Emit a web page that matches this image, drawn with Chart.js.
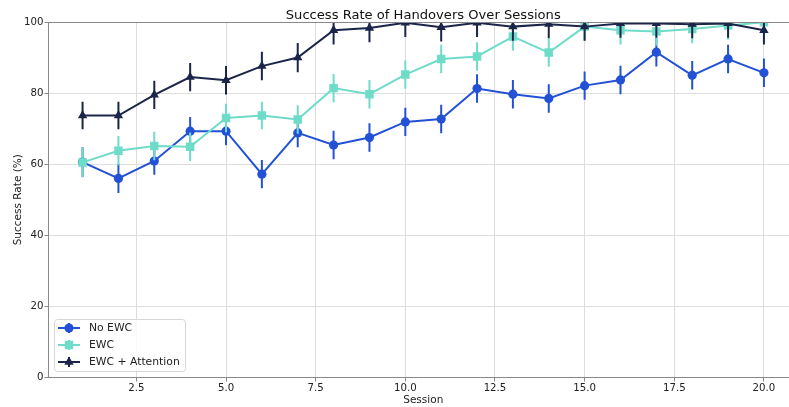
<!DOCTYPE html>
<html>
<head>
<meta charset="utf-8">
<script src="https://cdn.jsdelivr.net/npm/chart.js@4/dist/chart.umd.min.js"></script>
<style>
  html, body { margin: 0; padding: 0; background: #fff; overflow: hidden; }
  #wrap { width: 789px; height: 407px; overflow: hidden; position: relative; }
  #wrap canvas { position: absolute; left: 0; top: 0; }
</style>
</head>
<body>
<div id="wrap"><canvas id="c" width="804" height="407" style="width:804px;height:407px"></canvas></div>
<script>
// Sessions and success rates (%) with standard deviation per session
const sessions = [1, 2, 3, 4, 5, 6, 7, 8, 9, 10, 11, 12, 13, 14, 15, 16, 17, 18, 19, 20];

const noEwc    = [60.6, 56.0, 60.9, 69.3, 69.3, 57.2, 68.8, 65.4, 67.5, 71.9, 72.7, 81.3, 79.7, 78.5, 82.1, 83.7, 91.5, 85.0, 89.6, 85.7];
const noEwcErr = [4.2, 4.1, 3.9, 4.0, 4.0, 4.0, 4.0, 4.0, 4.0, 4.0, 4.0, 4.0, 4.0, 4.0, 4.0, 4.0, 4.0, 4.0, 4.0, 4.0];

const ewc      = [60.5, 63.8, 65.1, 64.9, 73.0, 73.7, 72.6, 81.4, 79.7, 85.2, 89.6, 90.3, 95.9, 91.4, 98.7, 97.7, 97.3, 98.0, 99.0, 99.9];
const ewcErr   = [4.2, 4.1, 4.0, 4.0, 4.0, 3.9, 4.0, 4.0, 4.0, 4.0, 4.0, 4.0, 4.0, 4.0, 4.0, 4.0, 4.0, 4.0, 4.0, 4.0];

const ewcAttn    = [73.7, 73.7, 79.5, 84.5, 83.6, 87.6, 90.0, 97.7, 98.3, 99.8, 98.5, 99.8, 98.7, 99.4, 98.7, 99.6, 99.6, 99.4, 99.6, 97.7];
const ewcAttnErr = [3.9, 3.9, 4.0, 4.0, 4.0, 4.0, 4.1, 4.0, 4.0, 4.0, 4.0, 4.0, 4.0, 4.0, 4.0, 4.0, 4.0, 4.0, 4.0, 4.0];

const xTicks = [2.5, 5.0, 7.5, 10.0, 12.5, 15.0, 17.5, 20.0];
const yTicks = [0, 20, 40, 60, 80, 100];

const FONT = "'DejaVu Sans', 'Liberation Sans', sans-serif";

const seriesDefs = [
  { label: 'No EWC',          values: noEwc,   errors: noEwcErr,   color: '#2251d6', style: 'circle',   radius: 4.6, order: 2 },
  { label: 'EWC',             values: ewc,     errors: ewcErr,     color: '#6fdcc9', style: 'rect',     radius: 6.0, order: 1 },
  { label: 'EWC + Attention', values: ewcAttn, errors: ewcAttnErr, color: '#1b2549', style: 'triangle', radius: 5.4, order: 0 }
];

const datasets = seriesDefs.map(s => ({
  label: s.label,
  data: sessions.map((x, i) => ({ x: x, y: s.values[i] })),
  errors: s.errors,
  borderColor: s.color,
  backgroundColor: s.color,
  borderWidth: 2,
  pointStyle: s.style,
  pointRadius: s.radius,
  pointHoverRadius: s.radius,
  pointBorderWidth: 0,
  pointBackgroundColor: s.color,
  tension: 0,
  clip: 0,
  order: s.order
}));

// Vertical error bars, drawn under each series' own line and markers
const errorBars = {
  id: 'errorBars',
  beforeDatasetDraw(chart, args) {
    const ds = chart.data.datasets[args.index];
    const meta = args.meta;
    const ys = chart.scales.y;
    const a = chart.chartArea;
    const ctx = chart.ctx;
    ctx.save();
    ctx.beginPath();
    ctx.rect(a.left, a.top, a.right - a.left, a.bottom - a.top);
    ctx.clip();
    ctx.strokeStyle = ds.borderColor;
    ctx.lineWidth = 2;
    meta.data.forEach((pt, i) => {
      const v = ds.data[i].y, e = ds.errors[i];
      ctx.beginPath();
      ctx.moveTo(pt.x, ys.getPixelForValue(v + e));
      ctx.lineTo(pt.x, ys.getPixelForValue(v - e));
      ctx.stroke();
    });
    ctx.restore();
  }
};

// Title, axis titles, top spine and the legend box
const decorations = {
  id: 'decorations',
  afterDraw(chart) {
    const ctx = chart.ctx;
    const a = chart.chartArea;
    const xs = chart.scales.x;
    ctx.save();

    // top spine
    ctx.strokeStyle = '#888888';
    ctx.lineWidth = 1;
    ctx.beginPath();
    ctx.moveTo(a.left, Math.round(a.top) + 0.5);
    ctx.lineTo(a.right, Math.round(a.top) + 0.5);
    ctx.stroke();

    const cx = xs.getPixelForValue((xs.min + xs.max) / 2);

    // title
    ctx.fillStyle = '#111111';
    ctx.font = '13.1px ' + FONT;
    ctx.textAlign = 'center';
    ctx.textBaseline = 'alphabetic';
    ctx.fillText('Success Rate of Handovers Over Sessions', cx, 19);

    // axis titles
    ctx.font = '10.5px ' + FONT;
    ctx.fillStyle = '#222222';
    ctx.fillText('Session', cx, 403);
    ctx.save();
    ctx.translate(20.5, (a.top + a.bottom) / 2);
    ctx.rotate(-Math.PI / 2);
    ctx.fillText('Success Rate (%)', 0, 0);
    ctx.restore();

    // legend
    const bx = 54.5, by = 319.5, bw = 131, bh = 52, r = 3;
    ctx.beginPath();
    ctx.moveTo(bx + r, by);
    ctx.arcTo(bx + bw, by, bx + bw, by + bh, r);
    ctx.arcTo(bx + bw, by + bh, bx, by + bh, r);
    ctx.arcTo(bx, by + bh, bx, by, r);
    ctx.arcTo(bx, by, bx + bw, by, r);
    ctx.closePath();
    ctx.fillStyle = 'rgba(255,255,255,0.8)';
    ctx.fill();
    ctx.strokeStyle = '#d6d6d6';
    ctx.stroke();

    const rows = [328, 345, 362];
    seriesDefs.forEach((s, i) => {
      const y = rows[i];
      ctx.strokeStyle = s.color;
      ctx.fillStyle = s.color;
      ctx.lineWidth = 2;
      ctx.beginPath();
      ctx.moveTo(58, y);
      ctx.lineTo(80, y);
      ctx.moveTo(69, y - 5);
      ctx.lineTo(69, y + 5);
      ctx.stroke();
      Chart.helpers.drawPoint(ctx, { pointStyle: s.style, radius: s.radius, rotation: 0, borderWidth: 0 }, 69, y);
      ctx.fillStyle = '#222222';
      ctx.font = '10.8px ' + FONT;
      ctx.textAlign = 'left';
      ctx.textBaseline = 'middle';
      ctx.fillText(s.label, 89, y);
    });

    ctx.restore();
  }
};

const whiteBg = {
  id: 'whiteBg',
  beforeDraw(chart) {
    const ctx = chart.ctx;
    ctx.save();
    ctx.fillStyle = '#ffffff';
    ctx.fillRect(0, 0, chart.width, chart.height);
    ctx.restore();
  }
};

new Chart(document.getElementById('c'), {
  type: 'line',
  data: { datasets: datasets },
  options: {
    responsive: false,
    animation: false,
    events: [],
    layout: { padding: { top: 22, right: 0, left: 0, bottom: 0 } },
    plugins: { legend: { display: false }, title: { display: false }, tooltip: { enabled: false } },
    scales: {
      x: {
        type: 'linear',
        min: 0.05,
        max: 20.95,
        afterBuildTicks(scale) { scale.ticks = xTicks.map(v => ({ value: v })); },
        afterFit(scale) { scale.height = 29.5; },
        ticks: {
          callback: v => Number(v).toFixed(1),
          font: { family: FONT, size: 10.2 },
          color: '#222222',
          padding: 1,
          maxRotation: 0,
          autoSkip: false
        },
        grid: { color: '#dddddd', tickColor: '#888888', tickLength: 4, lineWidth: 1 },
        border: { color: '#888888', width: 1 }
      },
      y: {
        type: 'linear',
        min: 0,
        max: 100,
        afterBuildTicks(scale) { scale.ticks = yTicks.map(v => ({ value: v })); },
        afterFit(scale) { scale.width = 48.5; },
        ticks: {
          callback: v => String(v),
          font: { family: FONT, size: 10.2 },
          color: '#222222',
          padding: 1
        },
        grid: { color: '#dddddd', tickColor: '#888888', tickLength: 4, lineWidth: 1 },
        border: { color: '#888888', width: 1 }
      }
    }
  },
  plugins: [whiteBg, errorBars, decorations]
});
</script>
</body>
</html>
